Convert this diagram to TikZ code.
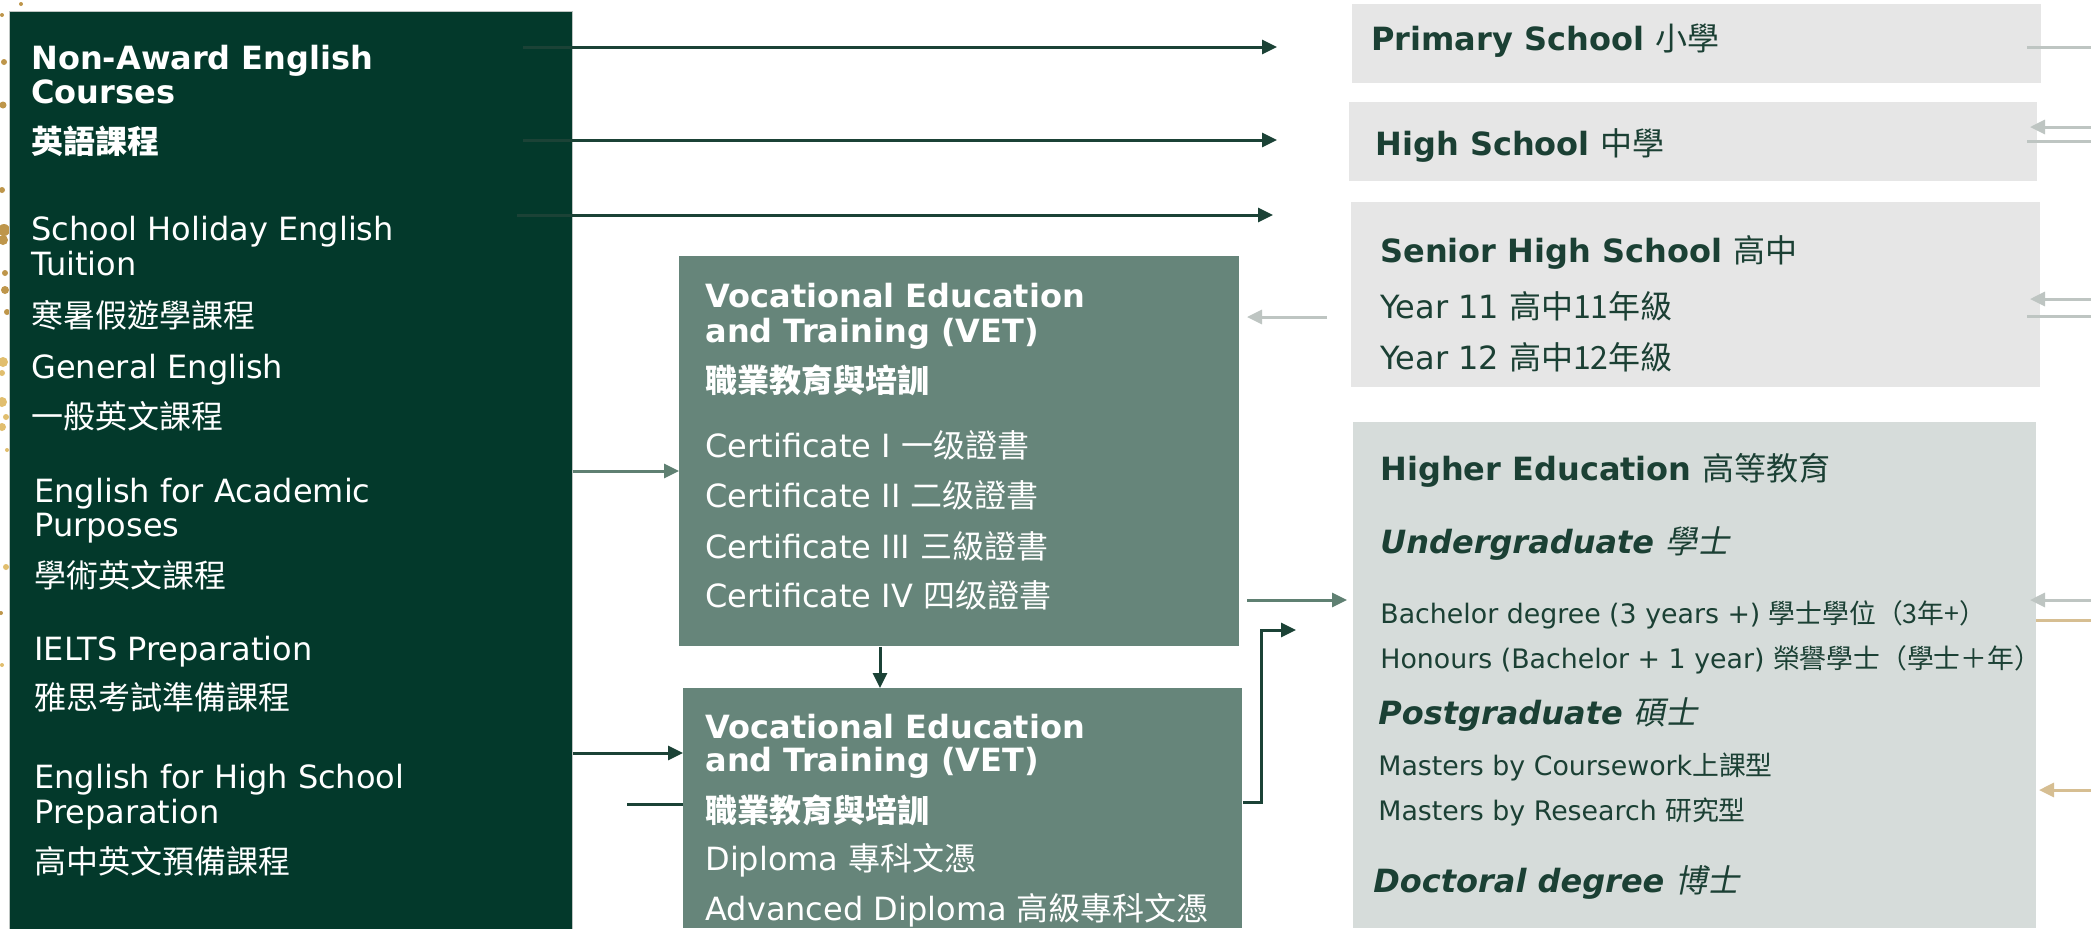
\documentclass[tikz,border=0pt]{standalone}
\usepackage{fontspec}
\setmainfont{DejaVu Sans}
\newfontfamily\cjk{Noto Sans CJK TC}
\newfontfamily\cjksl{Noto Sans CJK TC}[FakeSlant=0.2]
\newcommand\zh[1]{{\cjk #1}}
\newcommand\zhsl[1]{{\mdseries\cjksl #1}}
\newcommand\zhmd[1]{{\mdseries\cjk #1}}
\usetikzlibrary{arrows.meta}
\definecolor{deepgreen}{RGB}{3,57,43}
\definecolor{vetgreen}{RGB}{102,133,122}
\definecolor{lightbox}{RGB}{230,230,230}
\definecolor{hebox}{RGB}{214,220,218}
\definecolor{inktext}{RGB}{27,64,52}
\definecolor{darkline}{RGB}{27,66,54}
\definecolor{midline}{RGB}{95,128,114}
\definecolor{paleline}{RGB}{190,197,194}
\definecolor{tanline}{RGB}{214,190,146}
\definecolor{gold}{RGB}{190,150,75}
\definecolor{lightgold}{RGB}{225,190,110}
\begin{document}
\begin{tikzpicture}[x=0.5pt,y=-0.5pt,
  box/.style={anchor=north west, inner sep=0pt, draw=none},
  txt/.style={anchor=base west, inner sep=0pt, font=\fontsize{16}{19}\selectfont},
  bt/.style={txt, font=\fontsize{16}{19}\selectfont\bfseries},
  bit/.style={txt, font=\fontsize{16}{19}\selectfont\bfseries\itshape},
  st/.style={txt, font=\fontsize{13.4}{16}\selectfont},
  arr/.style={-{Triangle[length=7.5pt,width=7pt]}, line width=1.5pt},
  plain/.style={line width=1.5pt}]
\useasboundingbox (0,0) rectangle (2091,928);
\fill[white] (0,0) rectangle (2091,928);
% decorative gold dots
\foreach \px/\py/\pr in {21/4/2, 2/15/2, 4/62/3, 3/105/3.5, 2/190/3, 4/230/6, 3/240/5, 5/273/3, 5/290/4, 7/312/3, 1/613/2}
  \fill[gold] (\px,\py) circle[radius=\pr*0.5pt];
\foreach \px/\py/\pr in {3/362/5, 2/373/3, 2/402/5, 6/417/3, 2/427/4, 7/450/2, 6/567/3, 2/665/2}
  \fill[lightgold] (\px,\py) circle[radius=\pr*0.5pt];
% boxes
\node[box, fill=deepgreen, draw=paleline, line width=0.5pt, minimum width=281.5pt, minimum height=460pt] (lbox) at (8.5,11) {};
\node[box, fill=vetgreen, minimum width=280pt, minimum height=195pt] (vet1) at (679,256) {};
\node[box, fill=vetgreen, minimum width=279.5pt, minimum height=120pt] (vet2) at (683,688) {};
\node[box, fill=lightbox, minimum width=344.5pt, minimum height=39.5pt] (prim) at (1352,4) {};
\node[box, fill=lightbox, minimum width=344pt, minimum height=39.5pt] (high) at (1349,102) {};
\node[box, fill=lightbox, minimum width=344.5pt, minimum height=92.5pt] (senior) at (1351,202) {};
\node[box, fill=hebox, minimum width=341.5pt, minimum height=253pt] (higher) at (1353,422) {};
% left box texts
\begin{scope}[every node/.append style={text=white}]
\node[bt] (l1) at (31,69) {Non-Award English};
\node[bt] (l2) at (31,103) {Courses};
\node[bt] (l3) at (31,153) {\zh{英語課程}};
\node[txt] (l4) at (31,240) {School Holiday English};
\node[txt] (l5) at (31,275) {Tuition};
\node[txt] (l6) at (31,327) {\zh{寒暑假遊學課程}};
\node[txt] (l7) at (31,378) {General English};
\node[txt] (l8) at (31,428) {\zh{一般英文課程}};
\node[txt] (l9) at (34,502) {English for Academic};
\node[txt] (l10) at (34,536) {Purposes};
\node[txt] (l11) at (34,587) {\zh{學術英文課程}};
\node[txt] (l12) at (34,660) {IELTS Preparation};
\node[txt] (l13) at (34,709) {\zh{雅思考試準備課程}};
\node[txt] (l14) at (34,788) {English for High School};
\node[txt] (l15) at (34,823) {Preparation};
\node[txt] (l16) at (34,873) {\zh{高中英文預備課程}};
% VET 1
\node[bt] (v1) at (705,307) {Vocational Education};
\node[bt] (v2) at (705,342) {and Training (VET)};
\node[bt] (v3) at (705,392) {\zh{職業教育與培訓}};
\node[txt] (v4) at (705,457) {Certificate I \zh{一级證書}};
\node[txt] (v5) at (705,507) {Certificate II \zh{二级證書}};
\node[txt] (v6) at (705,558) {Certificate III \zh{三級證書}};
\node[txt] (v7) at (705,607) {Certificate IV \zh{四级證書}};
% VET 2
\node[bt] (w1) at (705,738) {Vocational Education};
\node[bt] (w2) at (705,771) {and Training (VET)};
\node[bt] (w3) at (705,822) {\zh{職業教育與培訓}};
\node[txt] (w4) at (705,870) {Diploma \zh{專科文憑}};
\node[txt] (w5) at (705,920) {Advanced Diploma \zh{高級專科文憑}};
\end{scope}
% right texts
\begin{scope}[every node/.append style={text=inktext}]
\node[bt] (r1) at (1371,50) {Primary School \zhmd{小學}};
\node[bt] (r2) at (1375,155) {High School \zhmd{中學}};
\node[bt] (r3) at (1380,262) {Senior High School \zhmd{高中}};
\node[txt] (r4) at (1380,318) {Year 11 \zh{高中11年級}};
\node[txt] (r5) at (1380,369) {Year 12 \zh{高中12年級}};
\node[bt] (h1) at (1380,480) {Higher Education \zhmd{高等教育}};
\node[bit] (h2) at (1380,553) {Undergraduate \zhsl{學士}};
\node[st] (h3) at (1380,623) {Bachelor degree (3 years +) \zh{學士學位（3年+）}};
\node[st] (h4) at (1380,668) {Honours (Bachelor + 1 year) \zh{榮譽學士（學士＋年）}};
\node[bit] (h5) at (1378,724) {Postgraduate \zhsl{碩士}};
\node[st] (h6) at (1378,775) {Masters by Coursework\zh{上課型}};
\node[st] (h7) at (1378,820) {Masters by Research \zh{研究型}};
\node[bit] (h8) at (1373,892) {Doctoral degree \zhsl{博士}};
\end{scope}
% connector end points
\coordinate (a1s) at (523,47);  \coordinate (a1e) at (1277,47);
\coordinate (a2s) at (523,140); \coordinate (a2e) at (1277,140);
\coordinate (a3s) at (517,215); \coordinate (a3e) at (1273,215);
\coordinate (a6s) at (627,804);
\coordinate (bend) at (1261,630); \coordinate (a7e) at (1296,630);
\coordinate (a8s) at (1247,600); \coordinate (a8e) at (1347,600);
\coordinate (a9s) at (1327,317); \coordinate (a9e) at (1247,317);
% dark arrows
\draw[arr, darkline] (a1s) -- (a1e);
\draw[arr, darkline] (a2s) -- (a2e);
\draw[arr, darkline] (a3s) -- (a3e);
\draw[arr, midline] (lbox.east |- 0,471) -- (vet1.west |- 0,471);
\draw[arr, darkline] (lbox.east |- 0,753) -- (vet2.west |- 0,753);
\draw[plain, darkline] (a6s) -- (vet2.west |- a6s);
\draw[arr, darkline] (vet1.south -| 880,0) -- (vet2.north -| 880,0);
\draw[arr, darkline] (vet2.east |- 0,802) -| (bend) -- (a7e);
\draw[arr, midline] (a8s) -- (a8e);
\draw[arr, paleline] (a9s) -- (a9e);
% right side connectors
\coordinate (p1s) at (2091,47);  \coordinate (p1e) at (2027,47);
\coordinate (p2s) at (2091,127); \coordinate (p2e) at (2030,127);
\coordinate (p3s) at (2091,141); \coordinate (p3e) at (2027,141);
\coordinate (p4s) at (2091,299); \coordinate (p4e) at (2030,299);
\coordinate (p5s) at (2091,316); \coordinate (p5e) at (2027,316);
\coordinate (p6s) at (2091,600); \coordinate (p6e) at (2030,600);
\coordinate (p7s) at (2091,620); \coordinate (p7e) at (2036,620);
\coordinate (p8s) at (2091,790); \coordinate (p8e) at (2039,790);
\draw[plain, paleline] (p1s) -- (p1e);
\draw[arr, paleline] (p2s) -- (p2e);
\draw[plain, paleline] (p3s) -- (p3e);
\draw[arr, paleline] (p4s) -- (p4e);
\draw[plain, paleline] (p5s) -- (p5e);
\draw[arr, paleline] (p6s) -- (p6e);
\draw[plain, tanline] (p7s) -- (p7e);
\draw[arr, tanline] (p8s) -- (p8e);
\end{tikzpicture}
\end{document}
